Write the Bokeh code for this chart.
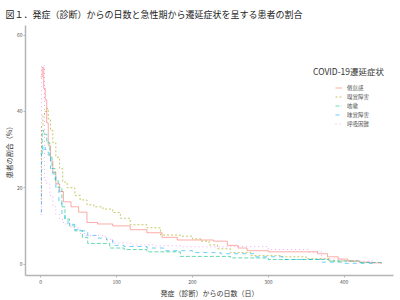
from bokeh.plotting import figure
from bokeh.models import Legend, LegendItem, Range1d, FixedTicker, Label
from bokeh.embed import file_html
from bokeh.resources import INLINE

# ---- data ----
series_names = ["倦怠感", "嗅覚障害", "咳嗽", "味覚障害", "呼吸困難"]
legend_title = "COVID-19遷延症状"

fatigue_days = [0, 2, 4, 6, 8, 10, 13, 16, 20, 25, 30, 40, 50, 61, 75, 95, 118, 140, 160, 180,
                228, 246, 260, 272, 300, 365, 378, 392, 405, 420, 435, 449]
fatigue_vals = [49, 51.5, 46, 43, 37, 31, 27, 24, 21, 19, 16.3, 15, 13.6, 10.9, 10.5, 10, 9, 8.2, 7, 6.3,
                6, 4.9, 4.2, 3.5, 3.2, 2.7, 1.9, 1.3, 0.8, 0.5, 0.3, 0]

smell_days = [0, 1, 3, 5, 8, 10, 13, 16, 20, 25, 29, 35, 45, 52, 61, 70, 82, 95, 105, 118, 140, 158,
              184, 200, 211, 222, 233, 250, 277, 316, 350, 380, 413]
smell_vals = [17, 36, 39, 40, 40.8, 38, 35, 31.8, 28, 25, 21.5, 20, 18, 16.8, 15.5, 15, 14.4, 13.5, 12,
              10.3, 9.5, 7.6, 7.3, 6.6, 6, 5, 4, 3, 2.2, 1.9, 1.4, 0.8, 0]

cough_days = [0, 2, 4, 8, 12, 15, 19, 23, 28, 32, 38, 45, 55, 62, 91, 110, 140, 184, 250, 300, 380, 420, 450]
cough_vals = [29, 35, 34, 31.8, 28, 25, 22, 20, 15, 11.8, 10, 8.7, 7, 5.4, 4.2, 3.8, 3.2, 2, 1.6, 1.2, 0.8, 0.4, 0]

taste_days = [0, 1, 3, 6, 10, 13, 16, 20, 24, 28, 32, 36, 45, 52, 62, 75, 87, 95, 110, 140, 162, 200,
              237, 281, 320, 370, 400, 440]
taste_vals = [13.6, 29, 31, 30, 28, 25, 23.6, 20, 16, 12.8, 11.5, 10.4, 9, 8.7, 7.5, 6.8, 6.3, 4.9, 4.6,
              4.2, 3.5, 3, 2.7, 1.9, 1.2, 0.5, 0.2, 0]

dyspnea_days = [0, 1, 3, 5, 8, 12, 16, 20, 25, 30, 40, 52, 60, 85, 95, 120, 150, 185, 246, 300, 352,
                370, 400, 440]
dyspnea_vals = [13, 52, 52, 22, 21, 18, 15, 13, 11.7, 10.5, 9.5, 8, 7.5, 6.5, 5.5, 5, 4.8, 4.5, 4.6,
                3.8, 3.2, 1.3, 0.8, 0]

x_ticks = [0, 100, 200, 300, 400]
y_ticks = [0, 20, 40, 60]

colors = ["#F8766D", "#A3A500", "#00BF7D", "#00B0F6", "#E76BF3"]
dashes = ["solid", "2 2", "4 2", "4 4", "1 3"]

FONT = "Noto Sans CJK JP"

p = figure(width=400, height=300, output_backend="svg", toolbar_location=None,
           x_range=Range1d(-20, 465), y_range=Range1d(-3, 62.5),
           min_border_left=0, min_border_right=7, min_border_top=10, min_border_bottom=2)

p.title.text = "図１．発症（診断）からの日数と急性期から遷延症状を呈する患者の割合"
p.title.text_font = FONT
p.title.text_font_size = "9px"
p.title.text_font_style = "normal"
p.title.text_color = "#222222"
p.title.align = "left"
p.title.offset = -20

p.outline_line_color = None
p.xgrid.grid_line_color = None
p.ygrid.grid_line_color = None

for ax in (p.xaxis[0], p.yaxis[0]):
    ax.axis_line_color = "#b5b5b5"
    ax.axis_line_width = 1.5
    ax.major_tick_line_color = "#b5b5b5"
    ax.major_tick_in = 0
    ax.major_tick_out = 2
    ax.minor_tick_line_color = None
    ax.major_label_text_font = FONT
    ax.major_label_text_font_size = "5px"
    ax.major_label_text_color = "#555555"
    ax.axis_label_text_font = FONT
    ax.axis_label_text_font_size = "7px"
    ax.axis_label_text_font_style = "normal"
    ax.axis_label_text_color = "#333333"

p.xaxis.ticker = FixedTicker(ticks=x_ticks)
p.yaxis.ticker = FixedTicker(ticks=y_ticks)
p.xaxis.axis_label = "発症（診断）からの日数（日）"
p.yaxis.axis_label = "患者の割合（%）"
p.xaxis.axis_label_standoff = 1
p.yaxis.axis_label_standoff = 0
p.xaxis.major_label_standoff = 2
p.yaxis.major_label_standoff = 1

data = [(fatigue_days, fatigue_vals), (smell_days, smell_vals), (cough_days, cough_vals),
        (taste_days, taste_vals), (dyspnea_days, dyspnea_vals)]

items = []
for (xs, ys), name, c, d in zip(data, series_names, colors, dashes):
    r = p.step(xs, ys, mode="after", line_color=c, line_width=0.8, line_dash=d, line_alpha=0.75)
    items.append(LegendItem(label=name, renderers=[r]))

legend = Legend(items=items, location=(310, 147),
                label_text_font=FONT, label_text_font_size="5.5px", label_text_color="#555555",
                glyph_width=7, glyph_height=9, label_height=9, spacing=0, label_standoff=5,
                background_fill_alpha=0, border_line_color=None, padding=2, margin=0)
p.add_layout(legend)

p.add_layout(Label(x=359, y=50.5, text=legend_title, text_font=FONT, text_font_size="8.5px",
                   text_color="#333333", text_align="left", text_baseline="middle"))

open("out.html", "w").write(file_html(p, INLINE))
